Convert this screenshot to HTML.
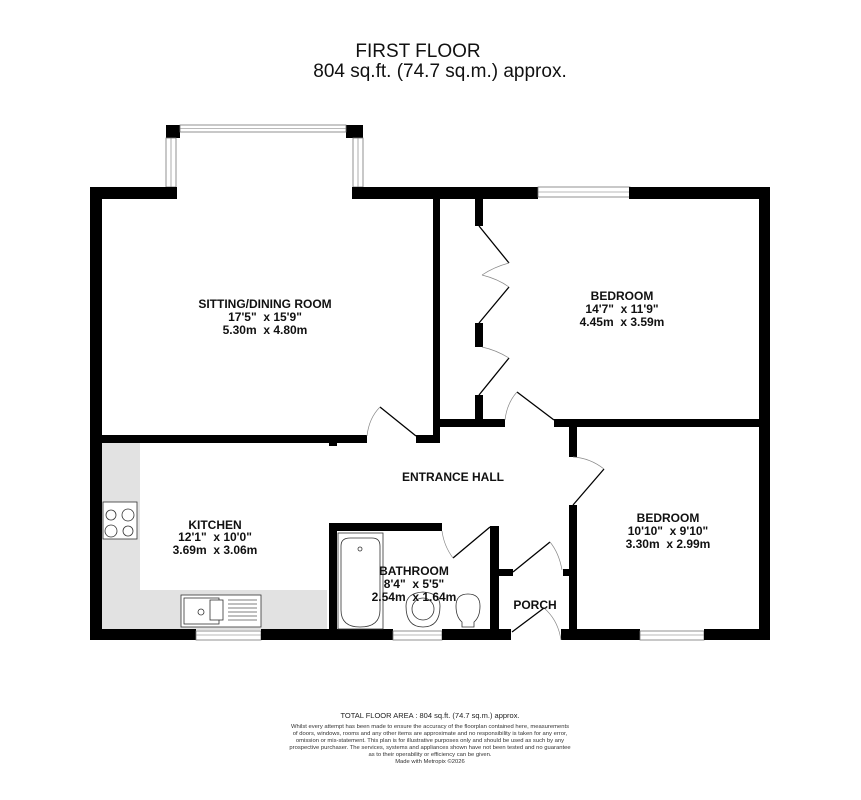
<!DOCTYPE html>
<html><head><meta charset="utf-8"><style>
html,body{margin:0;padding:0;background:#fff;}
svg{display:block;font-family:"Liberation Sans",Arial,sans-serif;}
.b{font-weight:bold;font-size:12px;text-anchor:middle;fill:#111;white-space:pre;}
.w{fill:#000;}
.win{fill:#fff;stroke:#777;stroke-width:0.8;}
.l{stroke:#000;stroke-width:1.3;fill:none;}
.a{stroke:#888;stroke-width:0.7;fill:none;}
.f{stroke:#333;stroke-width:0.8;fill:#fff;}
.ft{font-size:5.85px;text-anchor:middle;fill:#333;}
</style></head><body>
<svg width="861" height="800" viewBox="0 0 861 800">
<text x="418" y="57" font-size="19" text-anchor="middle" fill="#111">FIRST FLOOR</text>
<text x="440" y="77" font-size="19" text-anchor="middle" fill="#111">804 sq.ft. (74.7 sq.m.) approx.</text>

<rect x="102" y="443" width="38" height="150" fill="#e2e2e2"/>
<rect x="102" y="590" width="225" height="40" fill="#e2e2e2"/>

<rect class="w" x="166" y="125" width="14" height="13"/>
<rect class="w" x="346" y="125" width="17" height="13"/>
<rect class="win" x="180" y="125" width="166" height="7"/>
<line x1="180" y1="128.5" x2="346" y2="128.5" stroke="#777" stroke-width="0.6"/>
<rect class="win" x="166" y="138" width="10" height="49"/>
<line x1="171" y1="138" x2="171" y2="187" stroke="#777" stroke-width="0.6"/>
<rect class="win" x="353" y="138" width="10" height="49"/>
<line x1="358" y1="138" x2="358" y2="187" stroke="#777" stroke-width="0.6"/>

<rect class="w" x="90" y="187" width="87" height="12"/>
<rect class="w" x="352" y="187" width="186" height="12"/>
<rect class="win" x="538" y="187" width="92" height="10"/>
<line x1="538" y1="192" x2="630" y2="192" stroke="#777" stroke-width="0.6"/>
<rect class="w" x="629" y="187" width="141" height="12"/>
<rect class="w" x="90" y="187" width="12" height="453"/>
<rect class="w" x="759" y="187" width="11" height="453"/>
<rect class="w" x="90" y="629" width="106" height="11"/>
<rect class="win" x="196" y="631" width="65" height="9"/>
<line x1="196" y1="635" x2="261" y2="635" stroke="#777" stroke-width="0.6"/>
<rect class="w" x="261" y="629" width="132" height="11"/>
<rect class="win" x="393" y="631" width="49" height="9"/>
<line x1="393" y1="635" x2="442" y2="635" stroke="#777" stroke-width="0.6"/>
<rect class="w" x="442" y="629" width="69" height="11"/>
<rect class="w" x="561" y="629" width="79" height="11"/>
<rect class="win" x="640" y="631" width="64" height="9"/>
<line x1="640" y1="635" x2="704" y2="635" stroke="#777" stroke-width="0.6"/>
<rect class="w" x="704" y="629" width="66" height="11"/>

<rect class="w" x="433" y="187" width="7" height="256"/>
<rect class="w" x="102" y="435" width="265" height="8"/>
<rect class="w" x="329" y="443" width="8" height="3"/>
<rect class="w" x="416" y="435" width="24" height="8"/>
<rect class="w" x="475" y="199" width="8" height="27"/>
<rect class="w" x="475" y="323" width="8" height="24"/>
<rect class="w" x="475" y="395" width="8" height="25"/>
<rect class="w" x="440" y="419" width="65" height="8"/>
<rect class="w" x="554" y="419" width="216" height="8"/>
<rect class="w" x="569" y="427" width="8" height="30"/>
<rect class="w" x="569" y="505" width="8" height="135"/>
<rect class="w" x="329" y="523" width="8" height="107"/>
<rect class="w" x="329" y="523" width="113" height="8"/>
<rect class="w" x="490" y="526" width="9" height="104"/>
<rect class="w" x="499" y="569" width="14" height="7"/>
<rect class="w" x="563" y="569" width="6" height="7"/>

<line class="l" x1="416" y1="436" x2="380" y2="407"/>
<path class="a" d="M380,407 Q369,418 367,436"/>
<line class="l" x1="554" y1="420" x2="517" y2="392"/>
<path class="a" d="M517,392 Q507,403 505,420"/>
<line class="l" x1="573" y1="505" x2="604" y2="469"/>
<path class="a" d="M604,469 Q590,458 573,457"/>
<line class="l" x1="490" y1="527" x2="453" y2="558"/>
<path class="a" d="M453,558 Q444,546 442,531"/>
<line class="l" x1="513" y1="572" x2="550" y2="542"/>
<path class="a" d="M550,542 Q559,553 562,570"/>
<line class="l" x1="512" y1="632" x2="544" y2="608"/>
<path class="a" d="M544,608 Q558,620 561,640"/>
<polyline class="l" points="479,226 509,263"/>
<polyline class="l" points="479,323 509,287"/>
<path class="a" d="M509,263 Q494,267 482,275"/>
<path class="a" d="M482,275 Q498,279 509,287"/>
<polyline class="l" points="479,395 509,358"/>
<path class="a" d="M509,358 Q496,350 482,347"/>

<rect class="f" x="103" y="502" width="34" height="37"/>
<circle class="f" cx="111" cy="515" r="5"/><circle class="f" cx="128" cy="515" r="6"/>
<circle class="f" cx="111" cy="531" r="6"/><circle class="f" cx="128" cy="531" r="5"/>
<rect class="f" x="181" y="595" width="80" height="32"/>
<rect class="f" x="184" y="598" width="35" height="26"/>
<rect class="f" x="210" y="600" width="13" height="20"/>
<circle class="f" cx="201" cy="612" r="3"/>
<g stroke="#555" stroke-width="0.8"><line x1="228" y1="600" x2="257" y2="600"/><line x1="228" y1="604" x2="257" y2="604"/><line x1="228" y1="608" x2="257" y2="608"/><line x1="228" y1="612" x2="257" y2="612"/><line x1="228" y1="616" x2="257" y2="616"/><line x1="228" y1="620" x2="257" y2="620"/></g>
<rect class="f" x="338" y="533" width="45" height="96"/>
<path class="f" d="M341,546 Q341,538 350,538 L372,538 Q380,538 380,546 L380,610 Q380,627 360,627 Q341,627 341,610 Z"/>
<circle class="f" cx="360" cy="549" r="2"/>
<path class="f" d="M406,606 Q406,593 423,592 Q440,593 440,606 Q440,627 423,627 Q406,627 406,606 Z"/>
<circle class="f" cx="423" cy="609" r="11"/>
<path class="f" d="M456,606 Q456,594 468,594 Q480,594 480,606 Q480,617 474,622 L474,627 L462,627 L462,622 Q456,617 456,606 Z"/>

<text class="b" x="265" y="308">SITTING/DINING ROOM</text>
<text class="b" x="265" y="321">17'5"  x 15'9"</text>
<text class="b" x="265" y="334">5.30m  x 4.80m</text>
<text class="b" x="622" y="300">BEDROOM</text>
<text class="b" x="622" y="313">14'7"  x 11'9"</text>
<text class="b" x="622" y="326">4.45m  x 3.59m</text>
<text class="b" x="453" y="481">ENTRANCE HALL</text>
<text class="b" x="215" y="529">KITCHEN</text>
<text class="b" x="215" y="541">12'1"  x 10'0"</text>
<text class="b" x="215" y="554">3.69m  x 3.06m</text>
<text class="b" x="668" y="522">BEDROOM</text>
<text class="b" x="668" y="535">10'10"  x 9'10"</text>
<text class="b" x="668" y="548">3.30m  x 2.99m</text>
<text class="b" x="414" y="575">BATHROOM</text>
<text class="b" x="414" y="588">8'4"  x 5'5"</text>
<text class="b" x="414" y="601">2.54m  x 1.64m</text>
<text class="b" x="535" y="609">PORCH</text>

<text x="430" y="718" font-size="7.5" text-anchor="middle" fill="#222">TOTAL FLOOR AREA : 804 sq.ft. (74.7 sq.m.) approx.</text>
<text class="ft" x="430" y="728">Whilst every attempt has been made to ensure the accuracy of the floorplan contained here, measurements</text>
<text class="ft" x="430" y="735">of doors, windows, rooms and any other items are approximate and no responsibility is taken for any error,</text>
<text class="ft" x="430" y="742">omission or mis-statement. This plan is for illustrative purposes only and should be used as such by any</text>
<text class="ft" x="430" y="749">prospective purchaser. The services, systems and appliances shown have not been tested and no guarantee</text>
<text class="ft" x="430" y="756">as to their operability or efficiency can be given.</text>
<text class="ft" x="430" y="763">Made with Metropix ©2026</text>
</svg>
</body></html>
